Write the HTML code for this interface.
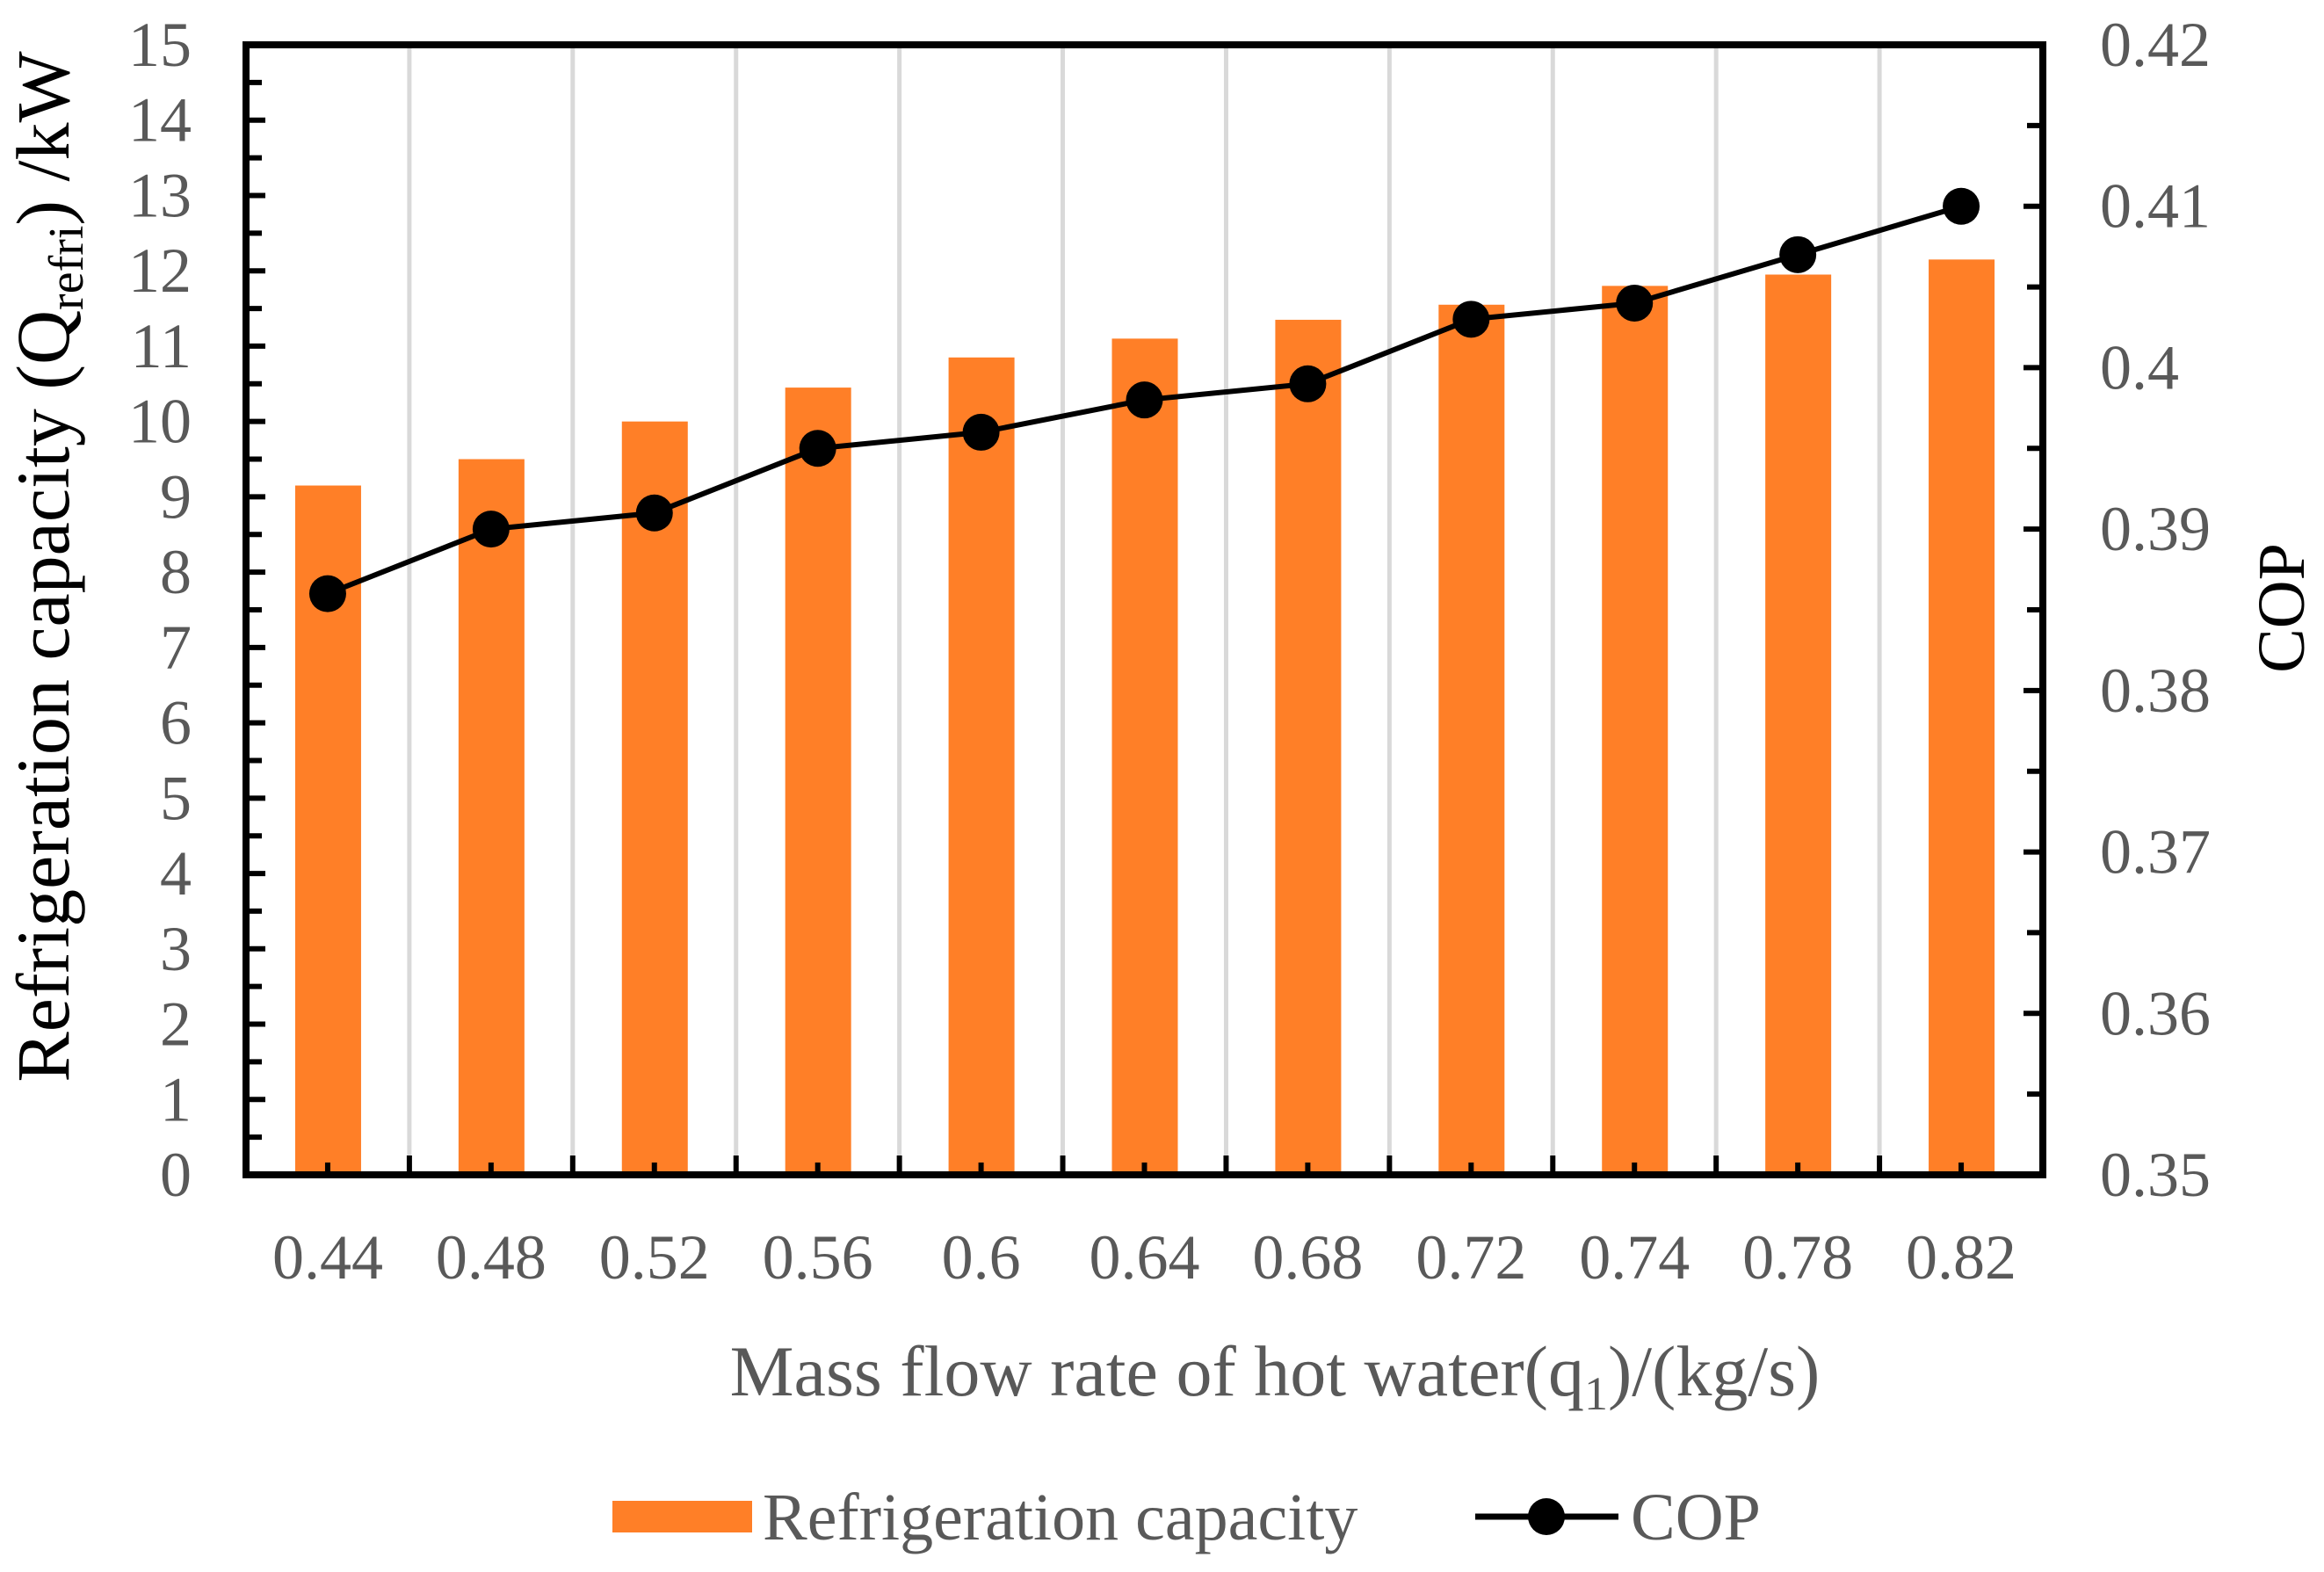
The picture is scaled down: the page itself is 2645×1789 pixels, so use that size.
<!DOCTYPE html>
<html><head><meta charset="utf-8"><style>
body{margin:0;background:#fff}
svg{display:block}
svg text{font-family:"Liberation Serif","Times New Roman",serif}
</style></head><body>
<svg id="chart" width="2645" height="1789" viewBox="0 0 2645 1789" xmlns="http://www.w3.org/2000/svg" font-family="Liberation Serif, serif">
<g id="grid"></g>
<g id="bars"></g>
<g id="line"></g>
<g id="axes"></g>
<text transform="translate(78,645) rotate(-90)" text-anchor="middle" font-size="86" fill="#000">Refrigeration capacity (Q<tspan font-size="56" dy="16">refri</tspan><tspan dy="-16">) /kW</tspan></text>
<text transform="translate(2622,692) rotate(-90)" text-anchor="middle" font-size="76" fill="#000">COP</text>
<text x="1451" y="1588" text-anchor="middle" font-size="82" fill="#595959">Mass flow rate of hot water(q<tspan font-size="54" dy="16">1</tspan><tspan dy="-16">)/(kg/s)</tspan></text>
<g>
<rect x="697" y="1708" width="159" height="36" fill="#FF7F27"/>
<text x="868" y="1752" font-size="76" fill="#595959">Refrigeration capacity</text>
<line x1="1679" y1="1726" x2="1842" y2="1726" stroke="#000" stroke-width="7"/>
<circle cx="1760" cy="1726" r="21" fill="#000"/>
<text x="1856" y="1752" font-size="76" fill="#595959">COP</text>
</g>
</svg>
<script>
const categories=["0.44","0.48","0.52","0.56","0.6","0.64","0.68","0.72","0.74","0.78","0.82"];
const capacity=[9.15,9.5,10.0,10.45,10.85,11.1,11.35,11.55,11.8,11.95,12.15];
const cop=[0.386,0.390,0.391,0.395,0.396,0.398,0.399,0.403,0.404,0.407,0.410];
const yTicks=[0,1,2,3,4,5,6,7,8,9,10,11,12,13,14,15];
const y2Ticks=["0.35","0.36","0.37","0.38","0.39","0.4","0.41","0.42"];

const NS="http://www.w3.org/2000/svg";
const L=280,R=2325,T=51,B=1337;
const n=categories.length, step=(R-L)/n;
const xC=i=>L+step*(i+0.5);
const y=v=>B-(v-0)/(15-0)*(B-T);
const y2=v=>B-(v-0.35)/(0.42-0.35)*(B-T);
function mk(tag,attrs,parent){const e=document.createElementNS(NS,tag);for(const k in attrs)e.setAttribute(k,attrs[k]);document.getElementById(parent).appendChild(e);return e;}

for(let i=1;i<n;i++){
  const e=mk('line',{x1:L+step*i,x2:L+step*i,y1:T,y2:B,stroke:'#d9d9d9','stroke-width':5},'grid');
  
  
}
capacity.forEach((v,i)=>{
  const e=mk('rect',{x:xC(i)-37,y:y(v),width:75,height:B-y(v),fill:'#FF7F27'},'bars');
  
  
});
const pl=mk('polyline',{points:cop.map((v,i)=>xC(i)+','+y2(v)).join(' '),fill:'none',stroke:'#000','stroke-width':6},'line');


cop.forEach((v,i)=>{
  const c=mk('circle',{cx:xC(i),cy:y2(v),r:21,fill:'#000'},'line');
  
  
});
const fr=mk('rect',{x:L,y:T,width:R-L,height:B-T,fill:'none',stroke:'#000','stroke-width':8},'axes');


yTicks.forEach(v=>{
  const t=mk('line',{x1:L,x2:L+22,y1:y(v),y2:y(v),stroke:'#000','stroke-width':6},'axes');
  
  
  if(v<15){const m=mk('line',{x1:L,x2:L+18,y1:y(v+0.5),y2:y(v+0.5),stroke:'#000','stroke-width':6},'axes');
  
  }
  const tx=mk('text',{x:218,y:y(v)+24,'text-anchor':'end','font-size':72,fill:'#595959'},'axes');
  tx.textContent=v;
  
  
});
y2Ticks.forEach((s,k)=>{
  const v=parseFloat(s);
  const t=mk('line',{x1:R-22,x2:R,y1:y2(v),y2:y2(v),stroke:'#000','stroke-width':6},'axes');
  
  
  if(k<y2Ticks.length-1){const m=mk('line',{x1:R-18,x2:R,y1:y2(v+0.005),y2:y2(v+0.005),stroke:'#000','stroke-width':6},'axes');
  
  }
  const tx=mk('text',{x:2390,y:y2(v)+24,'font-size':72,fill:'#595959'},'axes');
  tx.textContent=s;
  
  
});
categories.forEach((c,i)=>{
  if(i>0){const t=mk('line',{x1:L+step*i,x2:L+step*i,y1:B,y2:B-22,stroke:'#000','stroke-width':6},'axes');
  
  }
  const m=mk('line',{x1:xC(i),x2:xC(i),y1:B,y2:B-14,stroke:'#000','stroke-width':6},'axes');
  
  
  const tx=mk('text',{x:xC(i),y:1455,'text-anchor':'middle','font-size':72,fill:'#595959'},'axes');
  tx.textContent=c;
  
  
});
</script>
</body></html>
